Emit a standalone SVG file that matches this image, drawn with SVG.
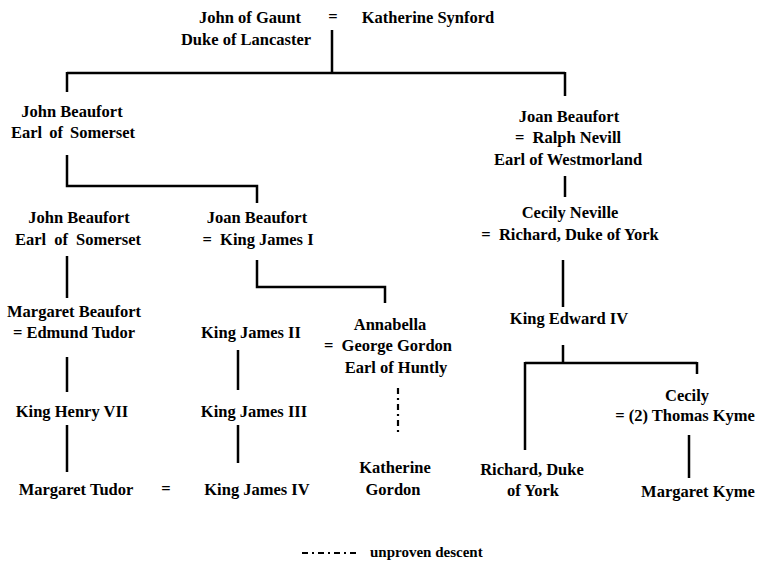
<svg xmlns="http://www.w3.org/2000/svg" width="767" height="565" viewBox="0 0 767 565">
<style>
text{font-family:"Liberation Serif","Times New Roman",serif;font-weight:bold;font-size:16.5px;fill:#000;text-anchor:middle}
.ln{stroke:#000;stroke-width:2.5;fill:none}
.dot{stroke:#000;stroke-width:2.2;fill:none;stroke-dasharray:6 4 2 4}
.lg{font-size:15px;text-anchor:start}
</style>
<rect width="767" height="565" fill="#fff"/>
<g id="connectors">
<path class="ln" d="M332,30 V73 M67,73 H565 M67,72 V92 M565,72 V96"/>
<path class="ln" d="M67,155 V186 H257 V203"/>
<path class="ln" d="M565,176 V197"/>
<path class="ln" d="M67,256 V298"/>
<path class="ln" d="M257,260 V287 H385 V303"/>
<path class="ln" d="M563,260 V307"/>
<path class="ln" d="M67,357 V392 M238,350 V390"/>
<path class="ln" d="M67,425 V472 M238,425 V463"/>
<path class="ln" d="M563,345 V363 M525,363 H697 M525,362 V450 M697,362 V374"/>
<path class="ln" d="M689,435 V478"/>
<path class="dot" d="M398,388 V435"/>
</g>
<g id="gaunt">
<text x="250" y="23">John of Gaunt</text>
<text x="246" y="45">Duke of Lancaster</text>
</g>
<g id="marriage-gaunt"><text x="333" y="22">=</text></g>
<g id="katherine-synford"><text x="428" y="23">Katherine Synford</text></g>
<g id="john-beaufort-1">
<text x="72" y="117">John Beaufort</text>
<text x="73" y="138" word-spacing="3">Earl of Somerset</text>
</g>
<g id="joan-beaufort-nevill">
<text x="569" y="122">Joan Beaufort</text>
<text x="568" y="143" xml:space="preserve">=  Ralph Nevill</text>
<text x="568" y="165">Earl of Westmorland</text>
</g>
<g id="john-beaufort-2">
<text x="79" y="223">John Beaufort</text>
<text x="78" y="245" word-spacing="4">Earl of Somerset</text>
</g>
<g id="joan-beaufort-james">
<text x="257" y="223">Joan Beaufort</text>
<text x="258" y="245" xml:space="preserve">=  King James I</text>
</g>
<g id="cecily-neville">
<text x="570" y="218">Cecily Neville</text>
<text x="570" y="240" xml:space="preserve">=  Richard, Duke of York</text>
</g>
<g id="margaret-beaufort">
<text x="74" y="317">Margaret Beaufort</text>
<text x="74" y="338">= Edmund Tudor</text>
</g>
<g id="james-ii"><text x="251" y="338">King James II</text></g>
<g id="annabella">
<text x="390" y="330">Annabella</text>
<text x="388" y="351" xml:space="preserve">=  George Gordon</text>
<text x="396" y="373">Earl of Huntly</text>
</g>
<g id="edward-iv"><text x="569" y="324">King Edward IV</text></g>
<g id="cecily">
<text x="687" y="401">Cecily</text>
<text x="685" y="421">= (2) Thomas Kyme</text>
</g>
<g id="henry-vii"><text x="72" y="417">King Henry VII</text></g>
<g id="james-iii"><text x="254" y="417">King James III</text></g>
<g id="margaret-tudor"><text x="76" y="495">Margaret Tudor</text></g>
<g id="marriage-tudor"><text x="166" y="494">=</text></g>
<g id="james-iv"><text x="257" y="495">King James IV</text></g>
<g id="katherine-gordon">
<text x="395" y="473">Katherine</text>
<text x="393" y="495">Gordon</text>
</g>
<g id="richard-york">
<text x="532" y="475">Richard, Duke</text>
<text x="533" y="496">of York</text>
</g>
<g id="margaret-kyme"><text x="698" y="497">Margaret Kyme</text></g>
<g id="legend">
<path class="dot" d="M302,553 H356"/>
<text class="lg" x="370" y="557">unproven descent</text>
</g>
</svg>
